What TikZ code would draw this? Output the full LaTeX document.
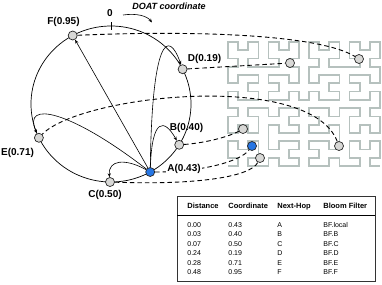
\documentclass[tikz,border=0pt]{standalone}
\usepackage{fontspec}
\setmainfont{Liberation Sans}
\usetikzlibrary{arrows.meta,lindenmayersystems}

\definecolor{gridgray}{RGB}{182,193,190}
\definecolor{peergray}{RGB}{216,216,214}
\definecolor{localblue}{RGB}{38,118,228}

\pgfdeclarelindenmayersystem{hilbert}{
  \rule{L -> +RF-LFL-FR+}
  \rule{R -> -LF+RFR+FL-}}

\newcommand{\tblhead}[1]{{\fontsize{7.5}{9.5}\selectfont\bfseries #1}}

\begin{document}
\begin{tikzpicture}[
x=1pt, y=-1pt,
peer/.style={circle, draw=black!85, fill=peergray, line width=0.7pt, minimum size=9pt, inner sep=0pt},
self/.style={peer, fill=localblue},
lbl/.style={font=\fontsize{10}{12}\selectfont\bfseries, inner sep=1pt},
hop/.style={-{Stealth[length=4pt, width=3.2pt]}, line width=0.6pt},
map/.style={dash pattern=on 4.5pt off 3pt, line width=0.9pt},
hilb/.style={draw=gridgray, line width=1.7pt, line join=miter},
tbl/.style={draw=black!80, line width=0.8pt, inner sep=0pt, font=\fontsize{7}{9.5}\selectfont}
]
\useasboundingbox (0,0) rectangle (382,284);

% address space curve
\begin{scope}[shift={(228,166)}, xscale=10.13, yscale=8.27]
\draw[hilb] (0,0) [l-system={hilbert, axiom=L, order=4, step=1pt, angle=90}] lindenmayer system;
\end{scope}

% ring
\draw[line width=0.7pt] (111,104) ellipse [x radius=80, y radius=78];
\draw[line width=0.9pt] (111,22) -- (111,30);
\node[lbl] (zero) at (110,13) {0};
\node[font=\fontsize{9}{11}\selectfont\bfseries\itshape] (doat) at (169,6) {DOAT coordinate};
\coordinate (cw1) at (123,15);
\coordinate (cw2) at (152,22.5);
\draw[hop] (cw1) .. controls (137,13) and (147,16) .. (cw2);

% peers on the ring
\node[peer] (F) at (72.7,35.5) {};
\node[peer] (D) at (182.6,69.2) {};
\node[peer] (B) at (179.2,144.8) {};
\node[self] (A) at (150.2,172) {};
\node[peer] (C) at (110,182) {};
\node[peer] (E) at (38.9,137.8) {};

% peers in the plane
\node[peer] (Fg) at (359,59) {};
\node[peer] (Dg) at (290,63) {};
\node[peer] (Bg) at (243,129) {};
\node[self] (Ag) at (252,146) {};
\node[peer] (Cg) at (260,158) {};
\node[peer] (Eg) at (339,146) {};

% mapping
\draw[map] (F) .. controls (200,30) and (320,35) .. (Fg);
\draw[map] (D) -- (Dg);
\draw[map] (B) .. controls (205,143) and (228,137) .. (Bg);
\draw[map] (A) .. controls (200,172) and (240,162) .. (Ag);
\draw[map] (C) .. controls (190,185) and (250,178) .. (Cg);
\draw[map] (Eg) .. controls (310,70) and (80,95) .. (E);

% routing table links
\draw[hop] (A) -- (F);
\draw[hop] (A) .. controls (152,40) and (168,28) .. (D);
\draw[hop] (A) .. controls (152,118) and (164,118) .. (B);
\draw[hop] (A) .. controls (125,158) and (108,160) .. (C);
\draw[hop] (A) .. controls (70,110) and (22,100) .. (E);

% labels
\node[lbl] (Flbl) at (63.5,21.5) {F(0.95)};
\node[lbl] (Dlbl) at (204.5,59) {D(0.19)};
\node[lbl] (Blbl) at (186.5,127.5) {B(0.40)};
\node[lbl, fill=white] (Albl) at (184,169) {A(0.43)};
\node[lbl] (Clbl) at (105,195) {C(0.50)};
\node[lbl] (Elbl) at (17.5,153) {E(0.71)};

% routing table
\node[tbl, anchor=north west] (table) at (177,196) {%
\begin{tabular}{@{\hspace{10pt}}p{41pt}@{}p{49pt}@{}p{46pt}@{}p{52pt}@{}}
\rule[-7.3pt]{0pt}{19pt}\tblhead{Distance} & \tblhead{Coordinate} & \tblhead{Next-Hop} & \tblhead{Bloom Filter}\\
\hline
\rule{0pt}{11.5pt}0.00 & 0.43 & A & BF.local\\
0.03 & 0.40 & B & BF.B\\
0.07 & 0.50 & C & BF.C\\
0.24 & 0.19 & D & BF.D\\
0.28 & 0.71 & E & BF.E\\
\rule[-7pt]{0pt}{7pt}0.48 & 0.95 & F & BF.F
\end{tabular}};
\end{tikzpicture}
\end{document}
